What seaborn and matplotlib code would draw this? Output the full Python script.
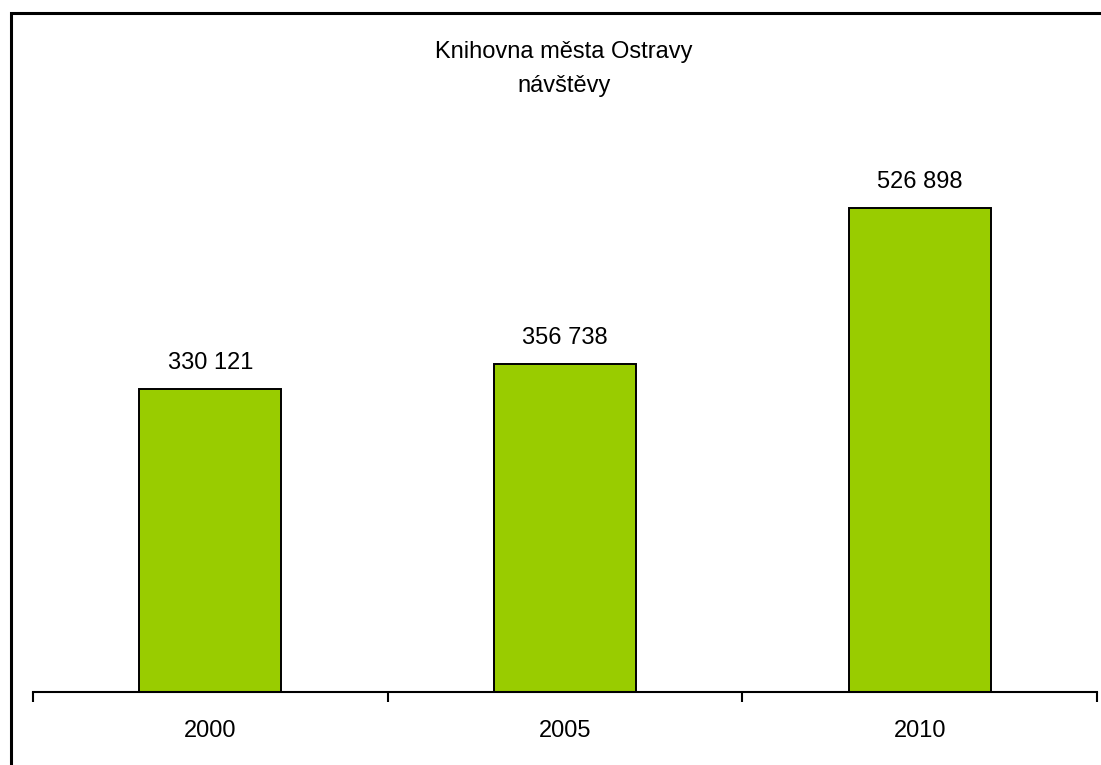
import pandas as pd
import seaborn as sns
import matplotlib.pyplot as plt
from matplotlib.patches import Rectangle

# data
roky = ['2000', '2005', '2010']
navstevy = [330121, 356738, 526898]

df = pd.DataFrame({'rok': roky, 'navstevy': navstevy})

sns.set_style('white')
plt.rcParams['font.family'] = ['Liberation Sans', 'DejaVu Sans']
plt.rcParams['text.color'] = 'black'
plt.rcParams['xtick.color'] = 'black'
plt.rcParams['xtick.labelcolor'] = 'black'

fig = plt.figure(figsize=(11.01, 7.65), dpi=100)
W, H = 1101, 765
# axes in pixel coords: left 33, right 1097, top 141, bottom 692
ax = fig.add_axes([33 / W, 1 - 692 / H, (1097 - 33) / W, (692 - 141) / H])

sns.barplot(data=df, x='rok', y='navstevy', color='#99CC00', width=0.4,
            edgecolor='black', linewidth=1.4, saturation=1, ax=ax)

ax.set_xlim(-0.5, 2.5)
ax.set_ylim(0, 600000)

# popisky hodnot
labels = [f'{v:,}'.replace(',', ' ') for v in navstevy]
ax.bar_label(ax.containers[0], labels=labels, padding=11, fontsize=17, color='black')

# osa x: carky na hranicich kategorii, popisky uprostred
ax.set_xticks([-0.5, 0.5, 1.5, 2.5])
ax.set_xticklabels([])
ax.set_xticks([0, 1, 2], minor=True)
ax.set_xticklabels(roky, minor=True, fontsize=17)
ax.tick_params(axis='x', which='major', direction='out', length=7, width=1.5,
               color='black', bottom=True)
ax.tick_params(axis='x', which='minor', length=0, pad=20, labelcolor='black')
ax.set_yticks([])
ax.set_xlabel('')
ax.set_ylabel('')

for s in ['top', 'right', 'left']:
    ax.spines[s].set_visible(False)
ax.spines['bottom'].set_color('black')
ax.spines['bottom'].set_linewidth(1.5)

fig.text(564 / W, 1 - 52 / H, 'Knihovna města Ostravy', ha='center', va='center', fontsize=17)
fig.text(564 / W, 1 - 86 / H, 'návštěvy', ha='center', va='center', fontsize=17)

# ramecek grafu
fig.patches.append(Rectangle((11 / W, -0.05), 1.1, 1 - 13 / H + 0.05,
                             transform=fig.transFigure, fill=False,
                             edgecolor='black', linewidth=2.2, clip_on=False))

fig.savefig('out.png', dpi=100)
